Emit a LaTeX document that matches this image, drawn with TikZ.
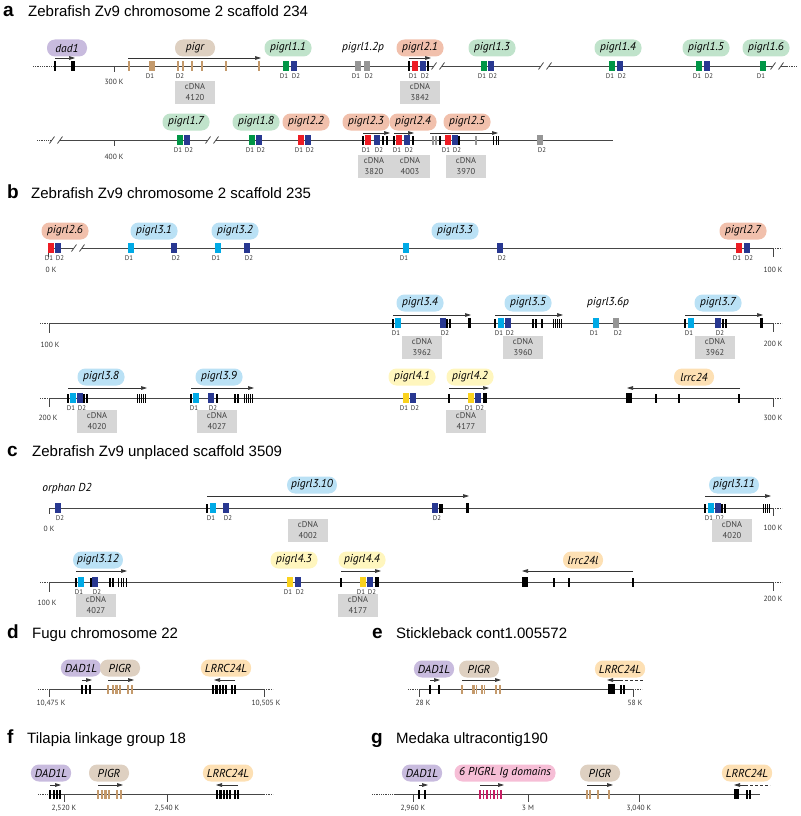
\documentclass[tikz,border=0pt]{standalone}
\usepackage{fontspec}
\setmainfont{Liberation Sans}
\newfontfamily\labfont{PT Sans}
\usetikzlibrary{arrows.meta}
\definecolor{axisgray}{RGB}{70,70,70}
\definecolor{cdnagray}{RGB}{214,214,214}
\definecolor{ppur}{RGB}{200,187,222}
\definecolor{pbei}{RGB}{222,208,193}
\definecolor{pgrn}{RGB}{192,227,203}
\definecolor{psal}{RGB}{241,192,172}
\definecolor{pblu}{RGB}{186,225,245}
\definecolor{pyel}{RGB}{255,246,190}
\definecolor{pora}{RGB}{253,224,180}
\definecolor{ppnk}{RGB}{246,190,214}
\definecolor{exgrn}{RGB}{0,150,70}
\definecolor{exblu}{RGB}{40,56,145}
\definecolor{exred}{RGB}{237,28,36}
\definecolor{exlbl}{RGB}{0,170,230}
\definecolor{exyel}{RGB}{250,210,30}
\definecolor{exgry}{RGB}{150,150,150}
\definecolor{extan}{RGB}{196,154,108}
\definecolor{exmag}{RGB}{200,30,100}
\def\dlabone{D1}
\def\dlabtwo{D2}
\newcommand{\exon}[2]{\fill[black] (#1-0.6,#2-4.5) rectangle (#1+0.6,#2+4.5);}
\newcommand{\exonw}[4]{\fill[#4] (#1-#3/2,#2-4.5) rectangle (#1+#3/2,#2+4.5);}
\newcommand{\bigexon}[3]{\fill[black] (#1-#3/2,#2-5) rectangle (#1+#3/2,#2+5);}
\newcommand{\domain}[4]{\fill[#3] (#1-2.6,#2-4.8) rectangle (#1+2.6,#2+4.8);
  \def\dtxt{#4}\def\dshift{0}%
  \ifx\dtxt\dlabone\def\dshift{-2}\fi
  \ifx\dtxt\dlabtwo\def\dshift{2}\fi
  \node[dlab] (d#1x#2) at (#1+\dshift,#2+10.5) {#4};}
\newcommand{\scafbreak}[2]{\fill[white] (#1-4,#2-1.2) rectangle (#1+4,#2+1.2);
  \draw[axis] (#1-6.5,#2+3.5) -- (#1-1.5,#2-3.5) (#1+1.5,#2+3.5) -- (#1+6.5,#2-3.5);}
\tikzset{
  axis/.style={draw=axisgray, line width=0.8pt},
  ends/.style={draw=axisgray, line width=0.8pt, densely dotted},
  garr/.style={draw=black!80, line width=0.7pt, -{Triangle[length=6pt,width=3.6pt]}},
  gdash/.style={draw=black!80, line width=0.7pt, densely dashed},
  pill/.style={rounded corners=8pt, minimum height=17pt, minimum width=40pt, inner xsep=4pt,
    inner ysep=0pt, text=black, font=\labfont\itshape\fontsize{11.5}{13}\selectfont},
  gpill/.style={pill, minimum width=47pt},
  gtext/.style={inner sep=0pt, text=black, font=\labfont\itshape\fontsize{11.5}{13}\selectfont},
  cdna/.style={fill=cdnagray, minimum width=40pt, minimum height=23pt, align=center,
    inner sep=0pt, text=black!75, font=\labfont\fontsize{8.5}{10.5}\selectfont},
  dlab/.style={inner sep=0pt, text=black!80, font=\labfont\fontsize{6.8}{7}\selectfont},
  poslab/.style={inner sep=0pt, text=black!80, font=\labfont\fontsize{7.5}{8}\selectfont},
  head/.style={inner sep=0pt, anchor=base west, font=\fontsize{15}{18}\selectfont},
  letter/.style={inner sep=0pt, anchor=base west, font=\bfseries\fontsize{19}{22}\selectfont}
}
\begin{document}
\begin{tikzpicture}[x=1pt, y=-1pt]
\useasboundingbox (0,0) rectangle (800,816);

% a
\node[letter] (la) at (3,16.5) {a};
\node[head] (ha) at (28,16.5) {Zebrafish Zv9 chromosome 2 scaffold 234};
\draw[ends] (33,66) -- (53,66);
\draw[axis] (53,66) -- (787,66);
\draw[ends] (787,66) -- (797,66);
\scafbreak{438}{66} \scafbreak{545}{66} \scafbreak{777}{66}
\draw[axis] (114,66) -- (114,72);
\node[poslab] (k300) at (114,82) {300 K};
\node[pill, fill=ppur] (dad1) at (67,48) {dad1};
\draw[garr] (55,58) -- (75,58);
\exon{55}{66} \exon{72}{66} \exon{74}{66}
\node[pill, fill=pbei] (pigr) at (195,48) {pigr};
\draw[garr] (128,58) -- (261,58);
\exonw{129}{66}{2}{extan} \domain{152}{66}{extan}{D1}
\exonw{178}{66}{2.5}{extan} \exonw{183}{66}{2.5}{extan}
\node[dlab] (pigrD2) at (180,76.5) {D2};
\exonw{192}{66}{2}{extan} \exonw{202}{66}{2}{extan} \exonw{226}{66}{2}{extan} \exonw{259}{66}{2}{extan}
\node[cdna] (c4120) at (195,92) {cDNA\\4120};
\node[gpill, fill=pgrn] (l11) at (288,48) {pigrl1.1};
\domain{286}{66}{exgrn}{D1} \domain{294}{66}{exblu}{D2}
\node[gtext] (l12p) at (363,48) {pigrl1.2p};
\domain{358}{66}{exgry}{D1} \domain{367}{66}{exgry}{D2}
\node[gpill, fill=psal] (l21) at (420,48) {pigrl2.1};
\draw[garr] (409,58) -- (431,58);
\exon{409}{66} \domain{415}{66}{exred}{D1} \domain{423}{66}{exblu}{D2} \exon{428}{66}
\node[cdna] (c3842) at (420,92) {cDNA\\3842};
\node[gpill, fill=pgrn] (l13) at (492,48) {pigrl1.3};
\domain{484}{66}{exgrn}{D1} \domain{491}{66}{exblu}{D2}
\node[gpill, fill=pgrn] (l14) at (618,48) {pigrl1.4};
\domain{612}{66}{exgrn}{D1} \domain{620}{66}{exblu}{D2}
\node[gpill, fill=pgrn] (l15) at (706,48) {pigrl1.5};
\domain{699}{66}{exgrn}{D1} \domain{707}{66}{exblu}{D2}
\node[gpill, fill=pgrn] (l16) at (766,48) {pigrl1.6};
\domain{763}{66}{exgrn}{D1}

\draw[ends] (37,140) -- (50,140);
\draw[axis] (50,140) -- (613,140);
\scafbreak{56}{140} \scafbreak{212}{140}
\draw[axis] (114,140) -- (114,146);
\node[poslab] (k400) at (114,157) {400 K};
\node[gpill, fill=pgrn] (l17) at (186,122) {pigrl1.7};
\domain{180}{140}{exgrn}{D1} \domain{187}{140}{exblu}{D2}
\node[gpill, fill=pgrn] (l18) at (256,122) {pigrl1.8};
\domain{252}{140}{exgrn}{D1} \domain{259}{140}{exblu}{D2}
\node[gpill, fill=psal] (l22) at (306,122) {pigrl2.2};
\domain{301}{140}{exred}{D1} \domain{308}{140}{exblu}{D2}
\node[gpill, fill=psal] (l23) at (366,122) {pigrl2.3};
\draw[garr] (363,133) -- (390,133);
\exon{363}{140} \domain{368}{140}{exred}{D1} \domain{377}{140}{exblu}{D2} \exon{383}{140} \exon{387}{140}
\node[cdna, minimum width=32pt] (c3820) at (374,166) {cDNA\\3820};
\node[gpill, fill=psal] (l24) at (413,122) {pigrl2.4};
\draw[garr] (394,133) -- (414,133);
\exon{394}{140} \domain{399}{140}{exred}{D1} \domain{407}{140}{exblu}{D2} \exon{413}{140}
\node[cdna] (c4003) at (410,166) {cDNA\\4003};
\node[gpill, fill=psal] (l25) at (467,122) {pigrl2.5};
\draw[garr] (430,133) -- (498,133);
\exonw{433}{140}{2}{exgry} \exonw{436}{140}{2}{exgry} \exon{440}{140}
\domain{448}{140}{exred}{D1} \domain{455}{140}{exblu}{D2} \exon{459}{140}
\exonw{476}{140}{2}{exgry}
\foreach \x in {493.5,496,498.5} {\exonw{\x}{140}{1}{black}}
\node[cdna] (c3970) at (466,166) {cDNA\\3970};
\domain{540}{140}{exgry}{D2}

% b
\node[letter] (lb) at (7,198) {b};
\node[head] (hb) at (31,198) {Zebrafish Zv9 chromosome 2 scaffold 235};
\draw[axis] (48,248) -- (773,248);
\draw[ends] (773,248) -- (782,248);
\draw[axis] (48,248) -- (48,257) (773,248) -- (773,257);
\node[poslab] (k0b) at (51,270) {0 K};
\node[poslab] (k100b) at (773,270) {100 K};
\scafbreak{78}{248}
\node[gpill, fill=psal] (l26) at (65,231) {pigrl2.6};
\domain{51}{248}{exred}{D1} \domain{58}{248}{exblu}{D2}
\node[gpill, fill=pblu] (l31) at (154,231) {pigrl3.1};
\domain{131}{248}{exlbl}{D1} \domain{174}{248}{exblu}{D2}
\node[gpill, fill=pblu] (l32) at (235,231) {pigrl3.2};
\domain{218}{248}{exlbl}{D1} \domain{247}{248}{exblu}{D2}
\node[gpill, fill=pblu] (l33) at (455,231) {pigrl3.3};
\domain{406}{248}{exlbl}{D1} \domain{500}{248}{exblu}{D2}
\node[gpill, fill=psal] (l27) at (743,231) {pigrl2.7};
\domain{739}{248}{exred}{D1} \domain{747}{248}{exblu}{D2}

\draw[ends] (40,323) -- (49,323);
\draw[axis] (49,323) -- (773,323);
\draw[ends] (773,323) -- (782,323);
\draw[axis] (49,323) -- (49,333) (773,323) -- (773,332);
\node[poslab] (k100c) at (50,345) {100 K};
\node[poslab] (k200b) at (773,344) {200 K};
\node[gpill, fill=pblu] (l34) at (420,303) {pigrl3.4};
\draw[garr] (393,315) -- (471,315);
\exon{393}{323} \domain{398}{323}{exlbl}{D1} \domain{443}{323}{exblu}{D2} \exon{447}{323} \exon{450}{323}
\bigexon{469}{323}{3}
\node[cdna] (c3962a) at (422,347) {cDNA\\3962};
\node[gpill, fill=pblu] (l35) at (528,303) {pigrl3.5};
\draw[garr] (495,315) -- (563,315);
\exon{495}{323} \domain{501}{323}{exlbl}{D1} \domain{508}{323}{exblu}{D2}
\exon{533}{323} \exon{536}{323} \exon{542}{323}
\foreach \x in {553,555.2,...,562} {\exonw{\x}{323}{1}{black}}
\node[cdna] (c3960) at (523,347) {cDNA\\3960};
\node[gtext] (l36p) at (608,303) {pigrl3.6p};
\domain{596}{323}{exlbl}{D1} \domain{616}{323}{exgry}{D2}
\node[gpill, fill=pblu] (l37) at (718,303) {pigrl3.7};
\draw[garr] (685,315) -- (763,315);
\exon{685}{323} \domain{691}{323}{exlbl}{D1} \domain{718}{323}{exblu}{D2} \exon{723}{323} \exon{726}{323}
\bigexon{761}{323}{3}
\node[cdna] (c3962b) at (715,347) {cDNA\\3962};

\draw[ends] (40,398) -- (49,398);
\draw[axis] (49,398) -- (773,398);
\draw[ends] (773,398) -- (782,398);
\draw[axis] (49,398) -- (49,407) (773,398) -- (773,407);
\node[poslab] (k200c) at (48,418) {200 K};
\node[poslab] (k300b) at (773,418) {300 K};
\node[gpill, fill=pblu] (l38) at (101,377) {pigrl3.8};
\draw[garr] (68,388) -- (147,388);
\exon{68}{398} \domain{73}{398}{exlbl}{D1} \domain{80}{398}{exblu}{D2} \exon{84}{398} \exon{87}{398}
\foreach \x in {137,139.2,...,146} {\exonw{\x}{398}{1}{black}}
\node[cdna] (c4020a) at (97,421) {cDNA\\4020};
\node[gpill, fill=pblu] (l39) at (219,377) {pigrl3.9};
\draw[garr] (191,388) -- (254,388);
\exon{191}{398} \domain{196}{398}{exlbl}{D1} \domain{211}{398}{exblu}{D2} \exon{217}{398}
\exon{235}{398} \exon{238}{398}
\foreach \x in {244,246.2,...,253} {\exonw{\x}{398}{1}{black}}
\node[cdna] (c4027a) at (217,421) {cDNA\\4027};
\node[gpill, fill=pyel] (l41) at (412,377) {pigrl4.1};
\domain{406}{398}{exyel}{D1} \domain{413}{398}{exblu}{D2}
\node[gpill, fill=pyel] (l42) at (470,377) {pigrl4.2};
\draw[garr] (449,388) -- (489,388);
\exon{449}{398} \domain{471}{398}{exyel}{D1} \domain{478}{398}{exblu}{D2} \bigexon{485}{398}{4}
\node[cdna] (c4177a) at (466,421) {cDNA\\4177};
\node[pill, fill=pora] (lrrc24) at (694,377) {lrrc24};
\draw[garr] (740,388) -- (627,388);
\bigexon{629}{398}{6} \exon{656}{398} \exon{679}{398} \exon{739}{398}

% c
\node[letter] (lc) at (7,456) {c};
\node[head] (hc) at (32,456) {Zebrafish Zv9 unplaced scaffold 3509};
\draw[axis] (49,508) -- (773,508);
\draw[ends] (773,508) -- (782,508);
\draw[axis] (49,508) -- (49,514) (773,508) -- (773,516);
\node[poslab] (k0c) at (49,529) {0 K};
\node[poslab] (k100d) at (773,528) {100 K};
\node[gtext] (orph) at (67,489) {orphan D2};
\domain{58}{508}{exblu}{D2}
\node[gpill, fill=pblu] (l310) at (312,485) {pigrl3.10};
\draw[garr] (207,496) -- (469,496);
\exon{207}{508} \domain{213}{508}{exlbl}{D1} \domain{226}{508}{exblu}{D2}
\domain{435}{508}{exblu}{D2} \exon{440}{508} \exon{442}{508} \bigexon{467}{508}{3}
\node[cdna] (c4002) at (308,530) {cDNA\\4002};
\node[gpill, fill=pblu] (l311) at (734,485) {pigrl3.11};
\draw[garr] (705,496) -- (771,496);
\exon{705}{508} \domain{711}{508}{exlbl}{D1} \domain{718}{508}{exblu}{D2} \exon{722}{508} \exon{725}{508}
\foreach \x in {763,765.2,...,770} {\exonw{\x}{508}{1}{black}}
\node[cdna] (c4020b) at (732,530) {cDNA\\4020};

\draw[ends] (40,582) -- (49,582);
\draw[axis] (49,582) -- (773,582);
\draw[ends] (773,582) -- (782,582);
\draw[axis] (49,582) -- (49,592) (773,582) -- (773,591);
\node[poslab] (k100e) at (47,603) {100 K};
\node[poslab] (k200d) at (773,599) {200 K};
\node[gpill, fill=pblu] (l312) at (98,560) {pigrl3.12};
\draw[garr] (76,571) -- (127,571);
\exon{76}{582} \domain{81}{582}{exlbl}{D1} \exon{91}{582} \domain{95}{582}{exblu}{D2}
\exon{110}{582} \exon{113}{582}
\foreach \x in {118,121,123.5,126} {\exonw{\x}{582}{1}{black}}
\node[cdna] (c4027b) at (96,605) {cDNA\\4027};
\node[gpill, fill=pyel] (l43) at (294,560) {pigrl4.3};
\domain{290}{582}{exyel}{D1} \domain{298}{582}{exblu}{D2}
\node[gpill, fill=pyel] (l44) at (362,560) {pigrl4.4};
\draw[garr] (341,571) -- (381,571);
\exon{341}{582} \domain{363}{582}{exyel}{D1} \domain{370}{582}{exblu}{D2} \bigexon{377}{582}{4}
\node[cdna] (c4177b) at (358,605) {cDNA\\4177};
\node[pill, fill=pora] (lrrc24l) at (583,560) {lrrc24l};
\draw[garr] (633,571) -- (522,571);
\bigexon{525}{582}{6} \exon{554}{582} \exon{569}{582} \exon{633}{582}

% d
\node[letter] (ld) at (7,638) {d};
\node[head] (hd) at (32,638) {Fugu chromosome 22};
\draw[ends] (38,689) -- (49,689);
\draw[axis] (49,689) -- (264,689);
\draw[ends] (264,689) -- (273,689);
\draw[axis] (49,689) -- (49,697) (264,689) -- (264,697);
\node[poslab] (kd1) at (51,703) {10,475 K};
\node[poslab] (kd2) at (266,703) {10,505 K};
\node[pill, fill=ppur, minimum width=38pt] (dadd) at (81,668) {DAD1L};
\draw[garr] (82,680) -- (92,680);
\exon{82}{689} \exon{86}{689} \exon{90}{689}
\node[pill, fill=pbei] (pigrd) at (120,668) {PIGR};
\draw[garr] (108,680) -- (134,680);
\exonw{108}{689}{1.2}{extan} \exonw{113}{689}{2.5}{extan} \exonw{116.5}{689}{2.5}{extan}
\exonw{120}{689}{2.5}{extan} \exonw{128}{689}{2}{extan} \exonw{131.5}{689}{2}{extan}
\node[pill, fill=pora] (lrrd) at (226,668) {LRRC24L};
\draw[garr] (235,680) -- (214,680);
\exonw{213}{689}{2.5}{black} \exonw{216.5}{689}{2.5}{black} \exonw{220}{689}{2}{black}
\exonw{223}{689}{2}{black} \exonw{226}{689}{2}{black} \exon{232}{689} \exon{235}{689}

% e
\node[letter] (le) at (372,638) {e};
\node[head] (he) at (396,638) {Stickleback cont1.005572};
\draw[ends] (408,689) -- (419,689);
\draw[axis] (419,689) -- (633,689);
\draw[ends] (633,689) -- (642,689);
\draw[axis] (419,689) -- (419,697) (633,689) -- (633,697);
\node[poslab] (ke1) at (423,703) {28 K};
\node[poslab] (ke2) at (635,703) {58 K};
\node[pill, fill=ppur] (dade) at (434,669) {DAD1L};
\draw[garr] (430,680) -- (440,680);
\exonw{430}{689}{2.5}{black} \exon{439}{689}
\node[pill, fill=pbei] (pigre) at (479,669) {PIGR};
\draw[garr] (462,680) -- (501,680);
\exonw{462}{689}{1.2}{extan} \exonw{473}{689}{3}{extan} \exonw{476.5}{689}{1.5}{extan}
\exonw{482}{689}{1.5}{extan} \exonw{484.5}{689}{1.5}{extan} \exonw{496}{689}{2.5}{extan}
\exonw{499.5}{689}{2}{extan}
\node[pill, fill=pora] (lrre) at (620,669) {LRRC24L};
\draw[gdash] (620,680) -- (643,680);
\draw[garr] (621,680) -- (607,680);
\bigexon{611}{689}{7} \exon{621}{689} \exon{624}{689}

% f
\node[letter] (lf) at (7,743) {f};
\node[head] (hf) at (27,743) {Tilapia linkage group 18};
\draw[ends] (38,794) -- (49,794);
\draw[axis] (49,794) -- (264,794);
\draw[ends] (264,794) -- (273,794);
\draw[axis] (64,794) -- (64,802) (167,794) -- (167,802);
\node[poslab] (kf1) at (64,808) {2,520 K};
\node[poslab] (kf2) at (167,808) {2,540 K};
\node[pill, fill=ppur] (dadf) at (51,773) {DAD1L};
\draw[garr] (50,785) -- (61,785);
\exonw{50}{794}{2}{black} \exon{54}{794} \exon{57}{794} \exon{60}{794}
\node[pill, fill=pbei] (pigrf) at (109,773) {PIGR};
\draw[garr] (98,785) -- (123,785);
\exonw{98}{794}{1.2}{extan} \exonw{102}{794}{2.5}{extan} \exonw{105.5}{794}{2.5}{extan}
\exonw{109}{794}{2.5}{extan} \exonw{117}{794}{2}{extan} \exonw{121}{794}{2}{extan}
\node[pill, fill=pora] (lrrf) at (228,773) {LRRC24L};
\draw[garr] (238,785) -- (216,785);
\exonw{217}{794}{2.5}{black} \exonw{220.5}{794}{2.5}{black} \exonw{224}{794}{2}{black}
\exonw{227}{794}{2}{black} \exonw{230}{794}{2}{black} \exon{235}{794} \exon{238}{794}

% g
\node[letter] (lg) at (371,743) {g};
\node[head] (hg) at (396,743) {Medaka ultracontig190};
\draw[ends] (372,794) -- (396,794);
\draw[axis] (396,794) -- (760,794);
\draw[axis] (413,794) -- (413,802) (528,794) -- (528,802) (639,794) -- (639,802);
\node[poslab] (kg1) at (413,808) {2,960 K};
\node[poslab] (kg2) at (528,808) {3 M};
\node[poslab] (kg3) at (639,808) {3,040 K};
\node[pill, fill=ppur] (dadg) at (422,773) {DAD1L};
\draw[garr] (419,785) -- (428,785);
\exonw{419}{794}{2}{black} \exonw{425}{794}{2}{black}
\node[pill, fill=ppnk, minimum width=101pt] (iggg) at (505,773) {6 PIGRL Ig domains};
\draw[garr] (480,785) -- (504,785);
\foreach \x in {480,483.5,...,501} {\exonw{\x}{794}{1.5}{exmag}}
\node[pill, fill=pbei] (pigrg) at (600,773) {PIGR};
\draw[garr] (587,785) -- (613,785);
\exonw{587}{794}{1.5}{extan} \exonw{590}{794}{1.5}{extan} \exonw{598}{794}{2}{extan} \exonw{609}{794}{2}{extan}
\node[pill, fill=pora] (lrrg) at (747,773) {LRRC24L};
\draw[gdash] (745,785) -- (770,785);
\draw[garr] (746,785) -- (734,785);
\bigexon{736}{794}{5} \exon{747}{794} \exon{750}{794}
\end{tikzpicture}
\end{document}
